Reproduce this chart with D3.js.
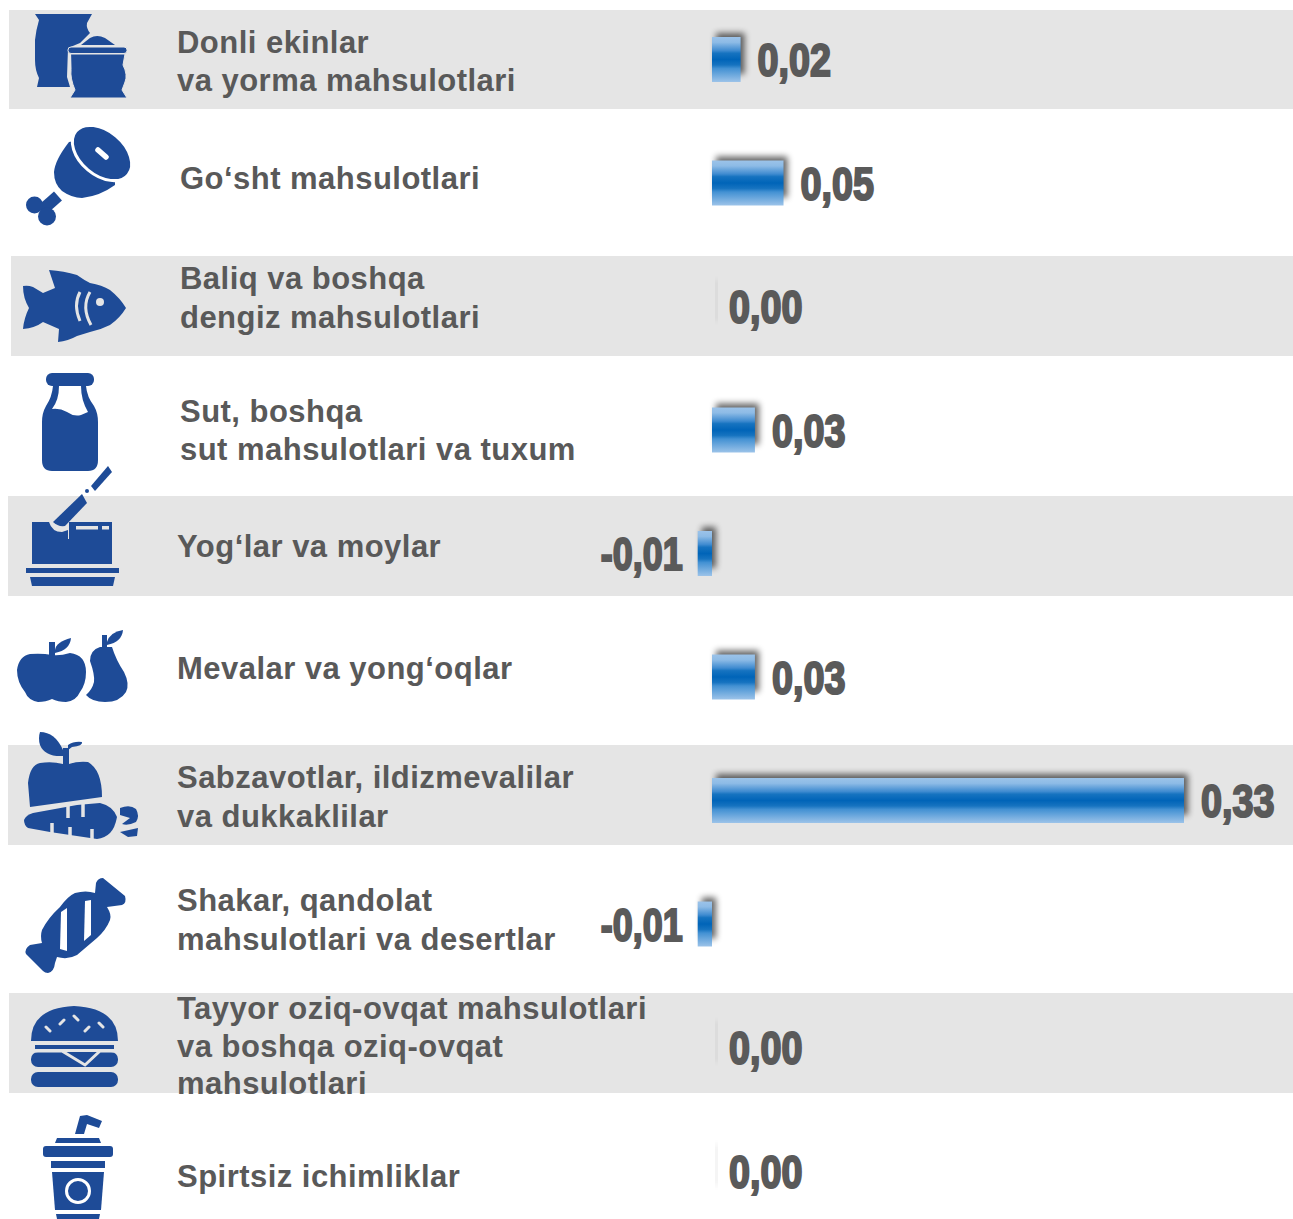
<!DOCTYPE html>
<html>
<head>
<meta charset="utf-8">
<script src="https://cdn.jsdelivr.net/npm/d3@7"></script>
<style>
html, body { margin: 0; padding: 0; background: #fff; }
svg { display: block; }
.cat { font: bold 31px "Liberation Sans", Arial, sans-serif; fill: #595959; letter-spacing: 0.47px; }
.val { font: bold 47px "Liberation Sans Narrow", "Liberation Sans", sans-serif; fill: #5a5a5a; stroke: #5a5a5a; stroke-width: 2.2px; }
</style>
</head>
<body>
<svg id="chart" width="1293" height="1219"></svg>
<script>
// values
const categories = ['grain', 'meat', 'fish', 'milk', 'oil', 'fruit', 'veg', 'sugar', 'ready', 'drinks'];
const values = [0.02, 0.05, 0, 0.03, -0.01, 0.03, 0.33, -0.01, 0, 0];
const labels = [
	['Donli ekinlar', 'va yorma mahsulotlari'],
	['Go‘sht mahsulotlari'],
	['Baliq va boshqa', 'dengiz mahsulotlari'],
	['Sut, boshqa', 'sut mahsulotlari va tuxum'],
	['Yog‘lar va moylar'],
	['Mevalar va yong‘oqlar'],
	['Sabzavotlar, ildizmevalilar', 'va dukkaklilar'],
	['Shakar, qandolat', 'mahsulotlari va desertlar'],
	['Tayyor oziq-ovqat mahsulotlari', 'va boshqa oziq-ovqat', 'mahsulotlari'],
	['Spirtsiz ichimliklar'],
];

// layout of the things that do not follow the value scale
const labelX = [177, 180, 180, 180, 177, 177, 177, 177, 177, 177];
const labelBaseline = [53, 189, 289, 422, 557, 679, 788, 911, 1019, 1187];
const labelGap = [38, 38, 39, 38, 38, 38, 39, 39, 37.6, 38];
const stripes = [[9, 10, 99], [11, 256, 100], [8, 496, 100], [8, 745, 100], [9, 993, 100]];
const BLUE = '#1e4b97';
const GREY = '#e5e5e5';

const svg = d3.select('#chart');
const defs = svg.append('defs');

const grad = defs.append('linearGradient').attr('id', 'barFill').attr('x1', 0).attr('y1', 0).attr('x2', 0).attr('y2', 1);
[[0, '#9cc3e9'], [0.12, '#8dbbe6'], [0.3, '#3f8bd0'], [0.36, '#1673c0'], [0.5, '#0064b8'], [0.62, '#1673c0'], [0.7, '#4391d3'], [1, '#9cc3e9']]
	.forEach(([o, c]) => grad.append('stop').attr('offset', o).attr('stop-color', c));

defs.append('filter').attr('id', 'blur').attr('x', '-100%').attr('y', '-100%').attr('width', '300%').attr('height', '300%')
	.append('feGaussianBlur').attr('stdDeviation', 3);

const x = d3.scaleLinear().domain([0, 0.33]).range([712, 1184]);
const y = d3.scalePoint().domain(categories).range([59.5, 1171]);
const BAR_H = 45;
const fmt = d3.formatLocale({ decimal: ',', thousands: ' ', grouping: [3], currency: ['', ''], minus: '-' }).format('.2f');

// grey stripes
svg.append('g').selectAll('rect').data(stripes).join('rect')
	.attr('x', (d) => d[0]).attr('y', (d) => d[1])
	.attr('width', (d) => 1293 - d[0]).attr('height', (d) => d[2])
	.attr('fill', GREY);

// icons, traced by hand
const icons = svg.append('g').attr('fill', BLUE);
function p(d, fill, stroke, sw) {
	return icons.append('path').attr('d', d).attr('fill', fill || BLUE)
		.attr('stroke', stroke || 'none').attr('stroke-width', sw || 0)
		.attr('stroke-linecap', 'round').attr('stroke-linejoin', 'round');
}
function line(d, color, w) {
	return icons.append('path').attr('d', d).attr('fill', 'none').attr('stroke', color).attr('stroke-width', w);
}

// sacks
p('M35,14 H92 L87,23 Q86,28 90,33 L80,43 L68,48 L67,77 L70,87 H37 L39,78 Q35,70 35,60 V40 Q36,30 39,20 Z');
p('M81,45 L90,38 Q97,34 105,38 L115,45 Z');
p('M71,54 H125 L123,65 Q128,75 125,82 L122,90 L127,98 H70 L75,90 Q70,78 71,70 Z', BLUE, GREY, 1);
icons.append('rect').attr('x', 68).attr('y', 47).attr('width', 59).attr('height', 6.5).attr('rx', 3).attr('stroke', GREY).attr('stroke-width', 1);

// ham
line('M58,196 L41,211', BLUE, 12);
icons.append('circle').attr('cx', 34.5).attr('cy', 205).attr('r', 8.5);
icons.append('circle').attr('cx', 47).attr('cy', 216.5).attr('r', 9);
p('M69,142 Q55,160 54,172 Q54,184 62,191 Q72,198 82,198 Q100,196 115,185 L115,170 L80,140 Z');
icons.append('ellipse').attr('cx', 102).attr('cy', 153).attr('rx', 34).attr('ry', 22).attr('transform', 'rotate(40 102 153)')
	.attr('stroke', '#fff').attr('stroke-width', 3);
line('M98,150 L106,157', '#fff', 5.5).attr('stroke-linecap', 'round');

// fish
p('M49,270 Q64,271 77,275 Q84,280 90,283 Q102,285 110,290 Q120,298 126,308 Q120,318 110,325 Q100,330 90,332 L77,336 Q68,341 58,342 L59,329 L43,322 Q35,328 23,329 Q24,318 29,308 Q23,298 23,286 Q28,285 33,287 L43,293 L55,288 Z');
line('M80,292 Q73,305 80,321', GREY, 3);
line('M90,292 Q81,307 91,325', GREY, 3);
icons.append('circle').attr('cx', 100).attr('cy', 302).attr('r', 4).attr('fill', GREY);

// milk bottle
icons.append('rect').attr('x', 46).attr('y', 373).attr('width', 48).attr('height', 13).attr('rx', 6);
p('M53,386 Q52,397 46,406 Q42,413 42,422 V460 Q42,471 52,471 H88 Q98,471 98,460 V422 Q98,413 94,406 Q87,397 86,386 Z');
p('M59,386 Q59,400 52,409 Q60,408 67,412 Q74,417 81,415 L88,412 Q81,400 81,386 Z', '#fff');

// butter and knife
p('M32,522 H49 Q52,532 62,532 L68,530 V539 H69 V522 H112 V564 H32 Z');
p('M53,522 L82,494 L87,503 L65,526 Q58,527 53,522 Z');
p('M91,486 L108,466 L112,472 L95,491 Z');
icons.append('circle').attr('cx', 87).attr('cy', 491).attr('r', 2);
icons.append('rect').attr('x', 76).attr('y', 526).attr('width', 22).attr('height', 3.5).attr('fill', GREY);
icons.append('rect').attr('x', 102).attr('y', 526).attr('width', 7).attr('height', 3.5).attr('fill', GREY);
icons.append('rect').attr('x', 26).attr('y', 568).attr('width', 93).attr('height', 5);
p('M30,577 H115 L113,586 H32 Z');

// apple and pear
p('M52,655 Q60,656 70,653 Q86,655 86,672 Q86,684 80,692 Q76,701 66,702 Q58,702 52,699 Q46,702 38,702 Q28,700 25,692 Q17,682 17,670 Q19,656 30,654 Q42,653 52,655 Z');
icons.append('rect').attr('x', 49).attr('y', 642).attr('width', 6).attr('height', 14);
p('M55,650 Q56,642 71,638 Q70,650 55,653 Z');
p('M86,695 Q92,690 94,682 Q95,675 90,661 Q90,650 100,647 L102,647 V635 H107 V647 L112,647 Q116,660 124,672 Q130,684 126,692 Q120,702 105,702 Q92,702 86,695 Z');
p('M107,642 Q110,632 123,630 Q122,642 107,645 Z');

// apple and carrot
p('M30,807 L28,783 Q30,765 40,763 Q52,761 63,764 L69,764 Q78,761 88,762 Q102,770 102,797 Z');
icons.append('rect').attr('x', 63).attr('y', 748).attr('width', 6).attr('height', 17);
p('M40,732 Q55,732 63,750 L63,756 Q45,757 40,745 Q38,738 40,732 Z');
p('M68,745 Q74,741 82,742 Q83,746 72,747 L68,750 Z');
p('M24,820 Q26,815 33,813 L77,805 L100,803 Q113,806 117,817 Q115,828 110,833 Q105,838 97,839 L50,832 L28,828 Q24,825 24,820 Z');
line('M68,804 V818 M83,803 V817', GREY, 3.5);
line('M52,823 V834 M70,827 V839 M92,829 V841', GREY, 3.5);
p('M120,808 Q130,804 136,809 Q140,816 136,822 Q128,826 122,824 L130,818 L120,815 Z');
p('M120,832 L138,828 L137,836 L128,837 Z');

// candy
p('M96,883 Q98,878 103,878 L125,896 Q127,903 122,905 L107,907 Q112,915 110,920 Q106,930 97,938 L77,955 Q68,960 57,957 L55,963 Q54,972 48,973 Q45,973 43,971 L26,954 Q24,949 30,945 L42,943 Q40,936 42,930 Q48,918 60,907 Q68,896 75,893 Q86,890 95,893 Z');
icons.append('path').attr('d', 'M61,912 L67,908 V951 L60,949 Z').attr('fill', '#fff');
icons.append('path').attr('d', 'M85,901 L91,900 L91,935 L84,941 Z').attr('fill', '#fff');

// burger
p('M31,1041 Q31,1008 74,1006 Q118,1008 118,1041 Z');
icons.append('rect').attr('x', 35).attr('y', 1045).attr('width', 79).attr('height', 4);
icons.append('rect').attr('x', 31).attr('y', 1052).attr('width', 87).attr('height', 15).attr('rx', 7);
icons.append('rect').attr('x', 31).attr('y', 1072).attr('width', 87).attr('height', 15).attr('rx', 7);
line('M35,1051 H62 L85,1065 L100,1051 H114', GREY, 3);
line('M46,1027 L50,1031 M60,1024 L64,1020 M74,1016 L78,1020 M85,1031 L89,1027 M99,1023 L103,1027', GREY, 3).attr('stroke-linecap', 'round');

// cup
p('M75,1134 L80,1116 L87,1115 L102,1121 L99,1128 L87,1124 L84,1134 Z');
p('M57,1138 H99 L101,1143 H55 Z');
icons.append('rect').attr('x', 43).attr('y', 1146).attr('width', 70).attr('height', 11).attr('rx', 3);
icons.append('rect').attr('x', 51).attr('y', 1161).attr('width', 54).attr('height', 7);
p('M52,1172 H104 L101,1210 H55 Z');
icons.append('circle').attr('cx', 78).attr('cy', 1191).attr('r', 11.5).attr('fill', 'none').attr('stroke', '#fff').attr('stroke-width', 3);
p('M56,1214 H100 L99,1219 H57 Z');

// category labels
svg.append('g').selectAll('text').data(labels).join('text')
	.attr('class', 'cat')
	.attr('x', (d, i) => labelX[i])
	.attr('y', (d, i) => labelBaseline[i])
	.each(function (lines, i) {
		d3.select(this).selectAll('tspan').data(lines).join('tspan')
			.attr('x', labelX[i])
			.attr('dy', (d, k) => (k ? labelGap[i] : 0))
			.text((d) => d);
	});

// bar shadows, up and to the right of each bar
svg.append('g').selectAll('rect').data(values).join('rect')
	.attr('x', (d) => Math.min(x(d), x(0)) + 4)
	.attr('y', (d, i) => y(categories[i]) - BAR_H / 2 - 4)
	.attr('width', (d) => Math.max(Math.abs(x(d) - x(0)), 0.6))
	.attr('height', BAR_H - 4)
	.attr('fill', '#000')
	.attr('opacity', 0.6)
	.attr('filter', 'url(#blur)');

// bars
svg.append('g').selectAll('rect').data(values).join('rect')
	.attr('x', (d) => Math.min(x(d), x(0)))
	.attr('y', (d, i) => y(categories[i]) - BAR_H / 2)
	.attr('width', (d) => Math.abs(x(d) - x(0)))
	.attr('height', BAR_H)
	.attr('fill', 'url(#barFill)');

// value labels, squeezed to the width of the original heavy face
svg.append('g').selectAll('text').data(values).join('text')
	.attr('class', 'val')
	.attr('text-anchor', (d) => (d < 0 ? 'end' : 'start'))
	.text((d) => fmt(d))
	.each(function (d, i) {
		const sx = (d < 0 ? 82 : 73.5) / this.getComputedTextLength();
		const tx = d < 0 ? x(d) - 15 : x(d) + 17;
		d3.select(this).attr('transform', `translate(${tx},${y(categories[i]) + 16.5}) scale(${sx},1)`);
	});
</script>
</body>
</html>
